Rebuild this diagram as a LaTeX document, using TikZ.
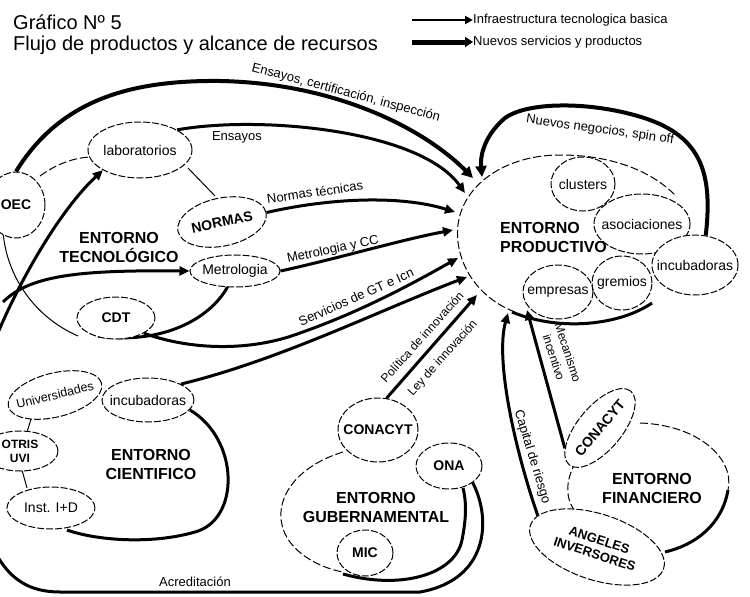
\documentclass[tikz,border=0pt]{standalone}
\usepackage{fontspec}
\setmainfont{Liberation Sans}
\usetikzlibrary{arrows.meta,shapes.geometric}
\newcommand{\mbx}[1]{\makebox[0pt][c]{#1}}
\begin{document}
\begin{tikzpicture}[x=1pt,y=-1pt,
  every node/.style={font=\fontsize{13}{15}\selectfont},
  env/.style={font=\fontsize{16}{19}\selectfont\bfseries, align=center, inner sep=0pt},
  sub/.style={ellipse, draw, line width=1pt, dash pattern=on 7pt off 2pt, fill=white, inner sep=0pt, font=\fontsize{14}{16}\selectfont},
  subb/.style={sub, font=\fontsize{14}{16}\selectfont\bfseries, align=center},
  lbl/.style={font=\fontsize{13}{15}\selectfont, inner sep=0pt},
  bigarr/.style={line width=4pt, -{Triangle[length=11pt,width=11pt]}},
  midarr/.style={line width=3pt, -{Triangle[length=10pt,width=9pt]}},
  bord/.style={line width=1pt, dash pattern=on 8pt off 3pt},
  thinbord/.style={line width=1pt},
  thickbord/.style={line width=3pt},
]
\useasboundingbox (0,0) rectangle (750,597);

% ---------------- title and legend
\node[anchor=base west, inner sep=0, font=\fontsize{20}{24}\selectfont] (title1) at (13,29) {Gráfico Nº 5};
\node[anchor=base west, inner sep=0, font=\fontsize{20}{24}\selectfont] (title2) at (13,50) {Flujo de productos y alcance de recursos};
\node[anchor=west, inner sep=0, font=\fontsize{13}{15}\selectfont] (leg1) at (473,20) {Infraestructura tecnologica basica};
\node[anchor=west, inner sep=0, font=\fontsize{13}{15}\selectfont] (leg2) at (473,42) {Nuevos servicios y productos};
\coordinate (leg1s) at (412,20);
\coordinate (leg2s) at (412,42);
\draw[line width=2.2pt, -{Triangle[length=8pt,width=8pt]}] (leg1s) -- (leg1.west);
\draw[line width=5pt, -{Triangle[length=8pt,width=10pt]}] (leg2s) -- (leg2.west);

% ---------------- environment outlines
% tecnologico
\draw[bord] (40,176) .. controls (55,165) and (72,158) .. (90,157);
\draw[thinbord] (188,168) -- (215,196);
\draw[thinbord] (3,230) .. controls (5,270) and (30,315) .. (78,336);
\draw[thickbord] (228,286) .. controls (210,320) and (160,345) .. (98,336);
% cientifico
\draw[thickbord] (190,410) .. controls (240,440) and (240,520) .. (195,532) .. controls (150,545) and (95,540) .. (67,530);
\draw[thinbord] (32,416) -- (27,432);
\draw[thinbord] (22,470) -- (27,488);
% gubernamental
\draw[bord] (343,452) .. controls (300,465) and (275,495) .. (282,525) .. controls (288,552) and (320,568) .. (343,572);
\draw[thickbord] (343,574) .. controls (400,590) and (455,575) .. (462,540) .. controls (467,515) and (466,500) .. (463,488);
% financiero
\draw[bord] (576,462) .. controls (565,480) and (565,500) .. (576,512);
\draw[bord] (640,423) .. controls (700,425) and (735,460) .. (728,490);
\draw[thickbord] (728,490) .. controls (722,525) and (695,545) .. (665,552);
% productivo
\draw[bord] (515,312) .. controls (470,295) and (450,250) .. (460,215) .. controls (470,180) and (510,155) .. (560,155) .. controls (610,155) and (650,170) .. (675,195);
\draw[thickbord] (512,312) .. controls (560,332) and (620,325) .. (652,303);

% ---------------- environment titles
\node[env] (tec) at (119,247) {ENTORNO\\TECNOLÓGICO};
\node[env] (cie) at (151,464) {ENTORNO\\CIENTIFICO};
\node[env] (gub) at (376,507) {ENTORNO\\GUBERNAMENTAL};
\node[env] (fin) at (652,488) {ENTORNO\\FINANCIERO};
\node[env, align=left, anchor=west] (pro) at (500,237) {ENTORNO\\PRODUCTIVO};

% ---------------- sub nodes
\node[subb, minimum width=58pt, minimum height=66pt] (oec) at (16,205) {OEC};
\node[sub, minimum width=104pt, minimum height=56pt] (lab) at (140,150) {\mbx{laboratorios}};
\node[subb, minimum width=90pt, minimum height=48pt, rotate=12] (normas) at (222,222) {NORMAS};
\node[sub, minimum width=90pt, minimum height=32pt] (metro) at (235,271) {\mbx{Metrologia}};
\node[subb, minimum width=78pt, minimum height=42pt] (cdt) at (116,318) {CDT};

\node[sub, minimum width=96pt, minimum height=44pt, rotate=14, font=\fontsize{12.5}{14}\selectfont] (univ) at (55,395) {\mbx{Universidades}};
\node[sub, minimum width=92pt, minimum height=44pt] (incC) at (148,400) {\mbx{incubadoras}};
\node[subb, minimum width=76pt, minimum height=40pt, font=\fontsize{12}{14}\selectfont\bfseries] (otris) at (20,451) {OTRIS\\UVI};
\node[sub, minimum width=88pt, minimum height=42pt] (inst) at (51,508) {\mbx{Inst. I+D}};

\node[subb, minimum width=80pt, minimum height=64pt] (conG) at (378,430) {\mbx{CONACYT}};
\node[subb, minimum width=66pt, minimum height=46pt] (ona) at (449,466) {ONA};
\node[subb, minimum width=56pt, minimum height=46pt] (mic) at (365,553) {MIC};

\node[subb, minimum width=96pt, minimum height=44pt, rotate=50] (conF) at (600,428) {\mbx{CONACYT}};
\node[subb, minimum width=140pt, minimum height=66pt, rotate=-18, font=\fontsize{13}{15}\selectfont\bfseries] (angel) at (597,547) {ANGELES\\INVERSORES};

\node[sub, minimum width=64pt, minimum height=54pt] (clus) at (583,184) {\mbx{clusters}};
\node[sub, minimum width=96pt, minimum height=60pt] (asoc) at (642,224) {\mbx{asociaciones}};
\node[sub, minimum width=86pt, minimum height=60pt] (incP) at (695,265) {\mbx{incubadoras}};
\node[sub, minimum width=60pt, minimum height=54pt] (grem) at (622,283) {\mbx{gremios}};
\node[sub, minimum width=70pt, minimum height=54pt] (empr) at (558,292) {\mbx{empresas}};

% ---------------- arrow end points on the productive environment
\coordinate (p1) at (473,178);
\coordinate (p2) at (465,193);
\coordinate (p3) at (455,212);
\coordinate (p4) at (453,230);
\coordinate (p5) at (458,258);
\coordinate (p6) at (467,277);
\coordinate (p7) at (477,295);
\coordinate (p8) at (482,177);
\coordinate (p9) at (508,313);
\coordinate (p10) at (527,310);
\coordinate (s1) at (-3,335);
\coordinate (s2) at (3,302);

% ---------------- arrows
\draw[bigarr] (oec.north) .. controls (60,100) and (130,80) .. (220,81) .. controls (330,83) and (420,125) .. (p1);
\draw[midarr] (lab.north east) .. controls (260,115) and (420,130) .. (p2);
\draw[midarr] (normas.east) .. controls (330,198) and (400,195) .. (p3);
\draw[midarr] (metro.east) .. controls (340,258) and (400,240) .. (p4);
\draw[midarr] (cdt.south east) .. controls (190,350) and (250,352) .. (300,333) .. controls (360,312) and (410,285) .. (p5);
\draw[midarr] (incC.north east) .. controls (280,360) and (380,310) .. (p6);
\draw[midarr] (conG.75) -- (p7);
\draw[bigarr] (incP.70) .. controls (712,180) and (705,140) .. (650,120) .. controls (600,102) and (530,100) .. (505,118) .. controls (485,135) and (480,155) .. (p8);
\draw[midarr] (angel.170) .. controls (515,450) and (495,360) .. (p9);
\draw[midarr] (conF.160) -- (p10);
\draw[midarr] (s1) .. controls (20,280) and (60,210) .. (lab.south west);
\draw[midarr] (s2) .. controls (30,275) and (80,270) .. (metro.west);
\draw[thickbord] (ona.south east) .. controls (492,520) and (488,580) .. (420,592) -- (60,592) .. controls (30,592) and (10,580) .. (-5,552);

% ---------------- arrow labels
\node[lbl, rotate=-15] (lEns1) at (346,93) {Ensayos, certificación, inspección};
\node[lbl] (lEns2) at (237,137) {Ensayos};
\node[lbl, rotate=8] (lNorm) at (315,192) {Normas técnicas};
\node[lbl, rotate=12] (lMet) at (333,250) {Metrologia y CC};
\node[lbl, rotate=24] (lServ) at (356,297) {Servicios de GT e Icn};
\node[lbl, rotate=48, font=\fontsize{12}{14}\selectfont] (lPol) at (422,337) {Política de innovación};
\node[lbl, rotate=48, font=\fontsize{12}{14}\selectfont] (lLey) at (443,358) {Ley de innovación};
\node[lbl, rotate=-8] (lNeg) at (600,130) {Nuevos negocios, spin off};
\node[lbl, rotate=-72, align=center, font=\fontsize{12}{15}\selectfont] (lMec) at (561,355) {Mecanismo\\incentivo};
\node[lbl, rotate=-73] (lCap) at (532,457) {Capital de riesgo};
\node[lbl] (lAcr) at (195,582) {Acreditación};
\end{tikzpicture}
\end{document}
